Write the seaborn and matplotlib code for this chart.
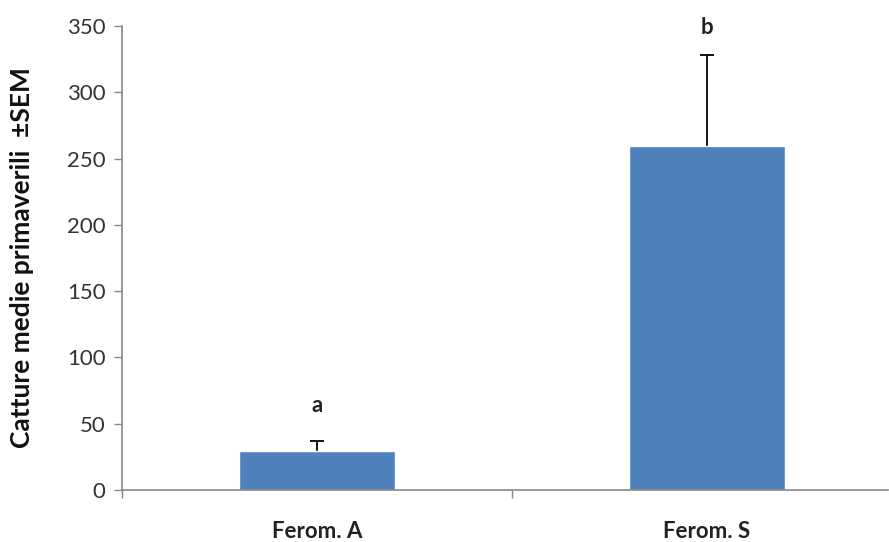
import matplotlib
matplotlib.use("Agg")
import matplotlib.pyplot as plt
import seaborn as sns
import pandas as pd
from matplotlib.ticker import FixedLocator

categories = ["Ferom. A", "Ferom. S"]
means = [29.5, 259.5]
sems = [7.5, 69.0]
letters = ["a", "b"]
letter_y = [64, 349]

df = pd.DataFrame({"cat": categories, "val": means})

sns.set_theme(style="white")
plt.rcParams["font.family"] = ["Lato", "DejaVu Sans"]

fig = plt.figure(figsize=(8.89, 5.42), dpi=100)
ax = fig.add_axes([122/889, 52/542, (888-122)/889, (490-26)/542])

sns.barplot(data=df, x="cat", y="val", color="#4F81BD", saturation=1,
            width=0.4, errorbar=None, ax=ax, zorder=2)
ax.errorbar(range(len(categories)), means, yerr=sems,
            fmt="none", ecolor="black", elinewidth=1.3, capsize=5, capthick=1.3,
            zorder=1)

for i, (l, y) in enumerate(zip(letters, letter_y)):
    ax.text(i, y, l, ha="center", va="center", fontsize=16, fontweight="bold",
            color="#222222")

ax.set_xlim(-0.5, 0.5 + (888-512)/390)
ax.set_ylim(0, 350)
ax.set_yticks(range(0, 351, 50))
ax.tick_params(axis="y", labelsize=16, length=6, width=1, color="#888888",
               labelcolor="#333333", direction="out", left=True, pad=6)
ax.xaxis.set_minor_locator(FixedLocator([-0.5, 0.5, 1.5]))
ax.tick_params(axis="x", which="major", length=0, pad=22, labelsize=16,
               labelcolor="#222222")
ax.tick_params(axis="x", which="minor", length=6, width=1, color="#888888",
               direction="out", bottom=True)
for lab in ax.get_xticklabels():
    lab.set_fontweight("bold")

for s in ["top", "right"]:
    ax.spines[s].set_visible(False)
for s in ["left", "bottom"]:
    ax.spines[s].set_color("#888888")
    ax.spines[s].set_linewidth(1.2)

ax.set_xlabel("")
ax.set_ylabel("Catture medie primaverili  ±SEM", fontsize=19, fontweight="bold",
              color="#111111")
ax.yaxis.set_label_coords((34-122)/766, 0.5)

fig.savefig("out.png", dpi=100)
